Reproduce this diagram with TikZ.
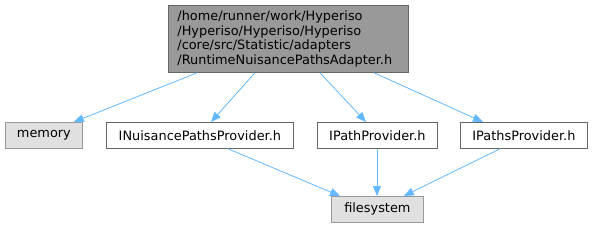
\documentclass[tikz,border=0pt]{standalone}
\usepackage{fontspec}
\setmainfont{DejaVu Sans}
\usetikzlibrary{arrows.meta}
\definecolor{edgec}{HTML}{63B8FF}
\definecolor{grayfill}{HTML}{999999}
\definecolor{lightfill}{HTML}{E0E0E0}
\definecolor{darkborder}{HTML}{666666}
\begin{document}
\begin{tikzpicture}[x=1pt,y=-1pt,
  box/.style={draw=darkborder, line width=0.8pt, fill=white, inner sep=0pt, font=\fontsize{12.9}{14.6}\selectfont, anchor=north west},
  sysbox/.style={box, draw=grayfill, fill=lightfill},
  edge/.style={draw=edgec, line width=0.8pt, -{Triangle[length=10pt,width=8pt]}}]
\useasboundingbox (0,0) rectangle (593,227);
\node[box, fill=grayfill, minimum width=240pt, minimum height=67pt, align=left, text width=222pt] (top) at (168,5)
  {/home/runner/work/Hyperiso\\/Hyperiso/Hyperiso/Hyperiso\\/core/src/Statistic/adapters\\/RuntimeNuisancePathsAdapter.h};
\node[sysbox, minimum width=77pt, minimum height=26pt] (mem) at (5,122) {memory};
\node[box, minimum width=187pt, minimum height=26pt] (inp) at (106,122) {INuisancePathsProvider.h};
\node[box, minimum width=120pt, minimum height=26pt] (ipp) at (317,122) {IPathProvider.h};
\node[box, minimum width=127pt, minimum height=26pt] (ips) at (460,122) {IPathsProvider.h};
\node[sysbox, minimum width=92pt, minimum height=26pt] (fs) at (331,196) {filesystem};
\draw[edge] ([xshift=29pt]top.south west) -- ([xshift=-9pt]mem.north east);
\draw[edge] ([xshift=87pt]top.south west) -- ([xshift=105pt]inp.north west);
\draw[edge] ([xshift=152pt]top.south west) -- ([xshift=49pt]ipp.north west);
\draw[edge] ([xshift=206pt]top.south west) -- ([xshift=23pt]ips.north west);
\draw[edge] ([xshift=122pt]inp.south west) -- ([xshift=9pt]fs.north west);
\draw[edge] ([xshift=60pt]ipp.south west) -- ([xshift=46pt]fs.north west);
\draw[edge] ([xshift=40pt]ips.south west) -- ([xshift=-20pt]fs.north east);
\end{tikzpicture}
\end{document}
